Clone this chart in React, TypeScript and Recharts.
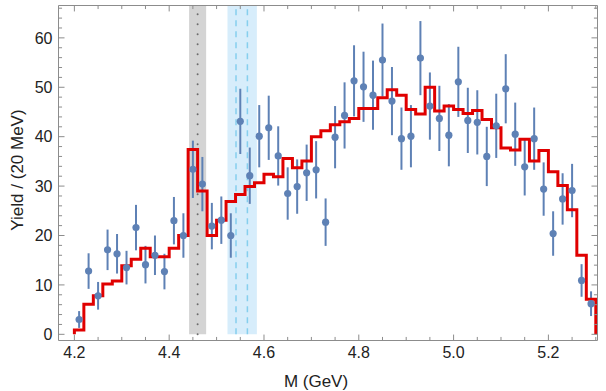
import { ComposedChart, Line, Scatter, ErrorBar, XAxis, YAxis, ReferenceArea, ReferenceLine, Label } from 'recharts'

// bin centres of the measured points (GeV)
const massCenters = [
  4.21, 4.23, 4.25, 4.27, 4.29, 4.31, 4.33, 4.35, 4.37, 4.39,
  4.41, 4.43, 4.45, 4.47, 4.49, 4.51, 4.53, 4.55, 4.57, 4.59,
  4.61, 4.63, 4.65, 4.67, 4.69, 4.71, 4.73, 4.75, 4.77, 4.79,
  4.81, 4.83, 4.85, 4.87, 4.89, 4.91, 4.93, 4.95, 4.97, 4.99,
  5.01, 5.03, 5.05, 5.07, 5.09, 5.11, 5.13, 5.15, 5.17, 5.19,
  5.21, 5.23, 5.25, 5.27, 5.29,
]

const yieldValues = [
  3.0, 12.8, 7.8, 17.1, 16.3, 13.5, 21.6, 14.1, 16.0, 12.7,
  23.0, 20.0, 33.4, 30.4, 21.9, 23.1, 20.0, 43.1, 32.1, 40.1,
  41.8, 36.1, 28.5, 29.9, 32.7, 33.3, 22.7, 39.9, 44.3, 51.3,
  50.1, 48.4, 55.5, 47.2, 39.6, 40.1, 55.9, 46.2, 43.7, 40.3,
  51.1, 43.3, 42.9, 36.0, 42.2, 49.7, 40.5, 33.9, 39.6, 29.4,
  20.4, 27.4, 29.1, 10.9, 6.2,
]

const yieldErrors = [
  1.7, 3.6, 2.8, 4.1, 4.0, 3.4, 4.6, 3.8, 4.0, 3.6,
  4.8, 4.5, 5.8, 5.5, 4.7, 4.8, 4.5, 6.6, 5.7, 6.3,
  6.5, 6.0, 5.3, 5.5, 5.7, 5.8, 4.8, 6.3, 6.7, 7.2,
  7.1, 7.0, 7.4, 6.9, 6.3, 6.3, 7.5, 6.8, 6.6, 6.3,
  7.1, 6.6, 6.5, 6.0, 6.5, 7.0, 6.4, 5.8, 6.3, 5.4,
  4.5, 5.2, 5.4, 3.3, 2.5,
]

// fit histogram: left edge of each 20 MeV bin and its content
const binStarts = [
  4.20, 4.22, 4.24, 4.26, 4.28, 4.30, 4.32, 4.34, 4.36, 4.38,
  4.40, 4.42, 4.44, 4.46, 4.48, 4.50, 4.52, 4.54, 4.56, 4.58,
  4.60, 4.62, 4.64, 4.66, 4.68, 4.70, 4.72, 4.74, 4.76, 4.78,
  4.80, 4.82, 4.84, 4.86, 4.88, 4.90, 4.92, 4.94, 4.96, 4.98,
  5.00, 5.02, 5.04, 5.06, 5.08, 5.10, 5.12, 5.14, 5.16, 5.18,
  5.20, 5.22, 5.24, 5.26, 5.28,
]
const histEnd = 5.3

const fitValues = [
  0.9, 6.1, 7.8, 10.2, 10.8, 13.9, 15.2, 17.4, 15.7, 15.7,
  17.4, 20.0, 37.4, 29.0, 20.0, 23.1, 26.9, 28.3, 29.9, 30.7,
  32.4, 31.9, 35.6, 33.7, 35.1, 40.0, 41.2, 42.4, 43.0, 43.7,
  45.7, 45.7, 47.9, 49.5, 48.4, 45.5, 44.6, 50.0, 45.2, 46.2,
  45.5, 44.7, 45.3, 43.5, 41.8, 37.7, 37.3, 39.5, 35.1, 37.2,
  32.9, 30.1, 25.2, 16.0, 7.1,
]

// highlighted regions
const grayBand = [4.442, 4.478]
const grayLine = 4.46
const blueBand = [4.523, 4.585]
const blueLines = [4.541, 4.565]

const xMajorTicks = [4.2, 4.4, 4.6, 4.8, 5.0, 5.2]
const xMinorTicks = [4.25, 4.3, 4.35, 4.45, 4.5, 4.55, 4.65, 4.7, 4.75, 4.85, 4.9, 4.95, 5.05, 5.1, 5.15, 5.25, 5.3]
const yMajorTicks = [0, 10, 20, 30, 40, 50, 60]
const yMinorTicks = [2, 4, 6, 8, 12, 14, 16, 18, 22, 24, 26, 28, 32, 34, 36, 38, 42, 44, 46, 48, 52, 54, 56, 58, 62, 64, 66]

const xMin = 4.1665
const xMax = 5.3036
const yMin = -1.25
const yMax = 66.55

const frameColor = '#8c8c8c'
const pointColor = '#5e81b5'
const fitColor = '#e00000'
const font = '"Liberation Sans", Arial, sans-serif'

export default function App() {
  const points = massCenters.map((x, i) => ({ x, y: yieldValues[i], err: yieldErrors[i] }))
  const steps = [
    { x: binStarts[0], y: 0 },
    ...binStarts.map((x, i) => ({ x, y: fitValues[i] })),
    { x: histEnd, y: 0 },
  ]

  const tickLines: JSX.Element[] = []
  xMajorTicks.concat(xMinorTicks).forEach((t, i) => {
    const len = i < xMajorTicks.length ? 0.0125 : 0.0075
    const ylen = len * (yMax - yMin) / (xMax - xMin) * (539 / 335)
    tickLines.push(<ReferenceLine key={'xb' + i} ifOverflow="visible" stroke={frameColor} segment={[{ x: t, y: yMin }, { x: t, y: yMin + ylen }]} />)
    tickLines.push(<ReferenceLine key={'xt' + i} ifOverflow="visible" stroke={frameColor} segment={[{ x: t, y: yMax }, { x: t, y: yMax - ylen }]} />)
  })
  yMajorTicks.concat(yMinorTicks).forEach((t, i) => {
    const len = i < yMajorTicks.length ? 0.0127 : 0.0075
    tickLines.push(<ReferenceLine key={'yl' + i} ifOverflow="visible" stroke={frameColor} segment={[{ x: xMin, y: t }, { x: xMin + len, y: t }]} />)
    tickLines.push(<ReferenceLine key={'yr' + i} ifOverflow="visible" stroke={frameColor} segment={[{ x: xMax, y: t }, { x: xMax - len, y: t }]} />)
  })

  return (
    <div style={{ position: 'absolute', left: 0, top: 0, width: 606, height: 391, background: '#fff' }}>
      <ComposedChart width={606} height={391} margin={{ top: 5.5, right: 8.5, left: 0, bottom: 0 }}>
        <XAxis
          type="number"
          dataKey="x"
          domain={[xMin, xMax]}
          allowDataOverflow
          ticks={xMajorTicks}
          tickFormatter={(v: number) => v.toFixed(1)}
          height={50.5}
          axisLine={false}
          tickLine={false}
          tickSize={0}
          tickMargin={6}
          tick={{ fill: '#222', fontSize: 16, fontFamily: font }}
        >
          <Label
            content={({ viewBox }: any) => (
              <text x={viewBox.x + viewBox.width / 2 - 12} y={viewBox.y + 46} textAnchor="middle" fill="#222" fontSize={17} fontFamily={font}>
                M (GeV)
              </text>
            )}
          />
        </XAxis>
        <YAxis
          type="number"
          domain={[yMin, yMax]}
          allowDataOverflow
          ticks={yMajorTicks}
          width={58.5}
          axisLine={false}
          tickLine={false}
          tickSize={0}
          tickMargin={6}
          tick={{ fill: '#222', fontSize: 16, fontFamily: font }}
        >
          <Label
            content={({ viewBox }: any) => {
              const cx = viewBox.x + 23
              const cy = viewBox.y + viewBox.height / 2 - 3
              return (
                <text x={cx} y={cy} transform={`rotate(-90, ${cx}, ${cy})`} textAnchor="middle" fill="#222" fontSize={17} fontFamily={font}>
                  Yield / (20 MeV)
                </text>
              )
            }}
          />
        </YAxis>

        <ReferenceArea x1={grayBand[0]} x2={grayBand[1]} y1={0} y2={yMax} fill="#d4d4d4" fillOpacity={1} stroke="none" ifOverflow="visible" />
        <ReferenceArea x1={blueBand[0]} x2={blueBand[1]} y1={0} y2={yMax} fill="#d7edfb" fillOpacity={1} stroke="none" ifOverflow="visible" />
        <ReferenceLine segment={[{ x: grayLine, y: 0 }, { x: grayLine, y: yMax }]} stroke="#6e6e6e" strokeWidth={2} strokeDasharray="0.1 9.9" strokeLinecap="round" ifOverflow="visible" />
        {blueLines.map((b) => (
          <ReferenceLine key={b} segment={[{ x: b, y: 0 }, { x: b, y: yMax }]} stroke="#86cfee" strokeWidth={1.5} strokeDasharray="6 5" ifOverflow="visible" />
        ))}

        <Scatter
          data={points}
          dataKey="y"
          isAnimationActive={false}
          shape={(p: any) => <circle cx={p.cx} cy={p.cy} r={3.6} fill={pointColor} />}
        >
          <ErrorBar dataKey="err" direction="y" width={0} stroke={pointColor} strokeWidth={2} />
        </Scatter>
        <Line
          data={steps}
          dataKey="y"
          type="stepAfter"
          stroke={fitColor}
          strokeWidth={3}
          dot={false}
          activeDot={false}
          isAnimationActive={false}
        />

        <ReferenceLine x={xMin} stroke={frameColor} ifOverflow="visible" />
        <ReferenceLine x={xMax} stroke={frameColor} ifOverflow="visible" />
        <ReferenceLine y={yMin} stroke={frameColor} ifOverflow="visible" />
        <ReferenceLine y={yMax} stroke={frameColor} ifOverflow="visible" />
        {tickLines}
      </ComposedChart>
    </div>
  )
}
